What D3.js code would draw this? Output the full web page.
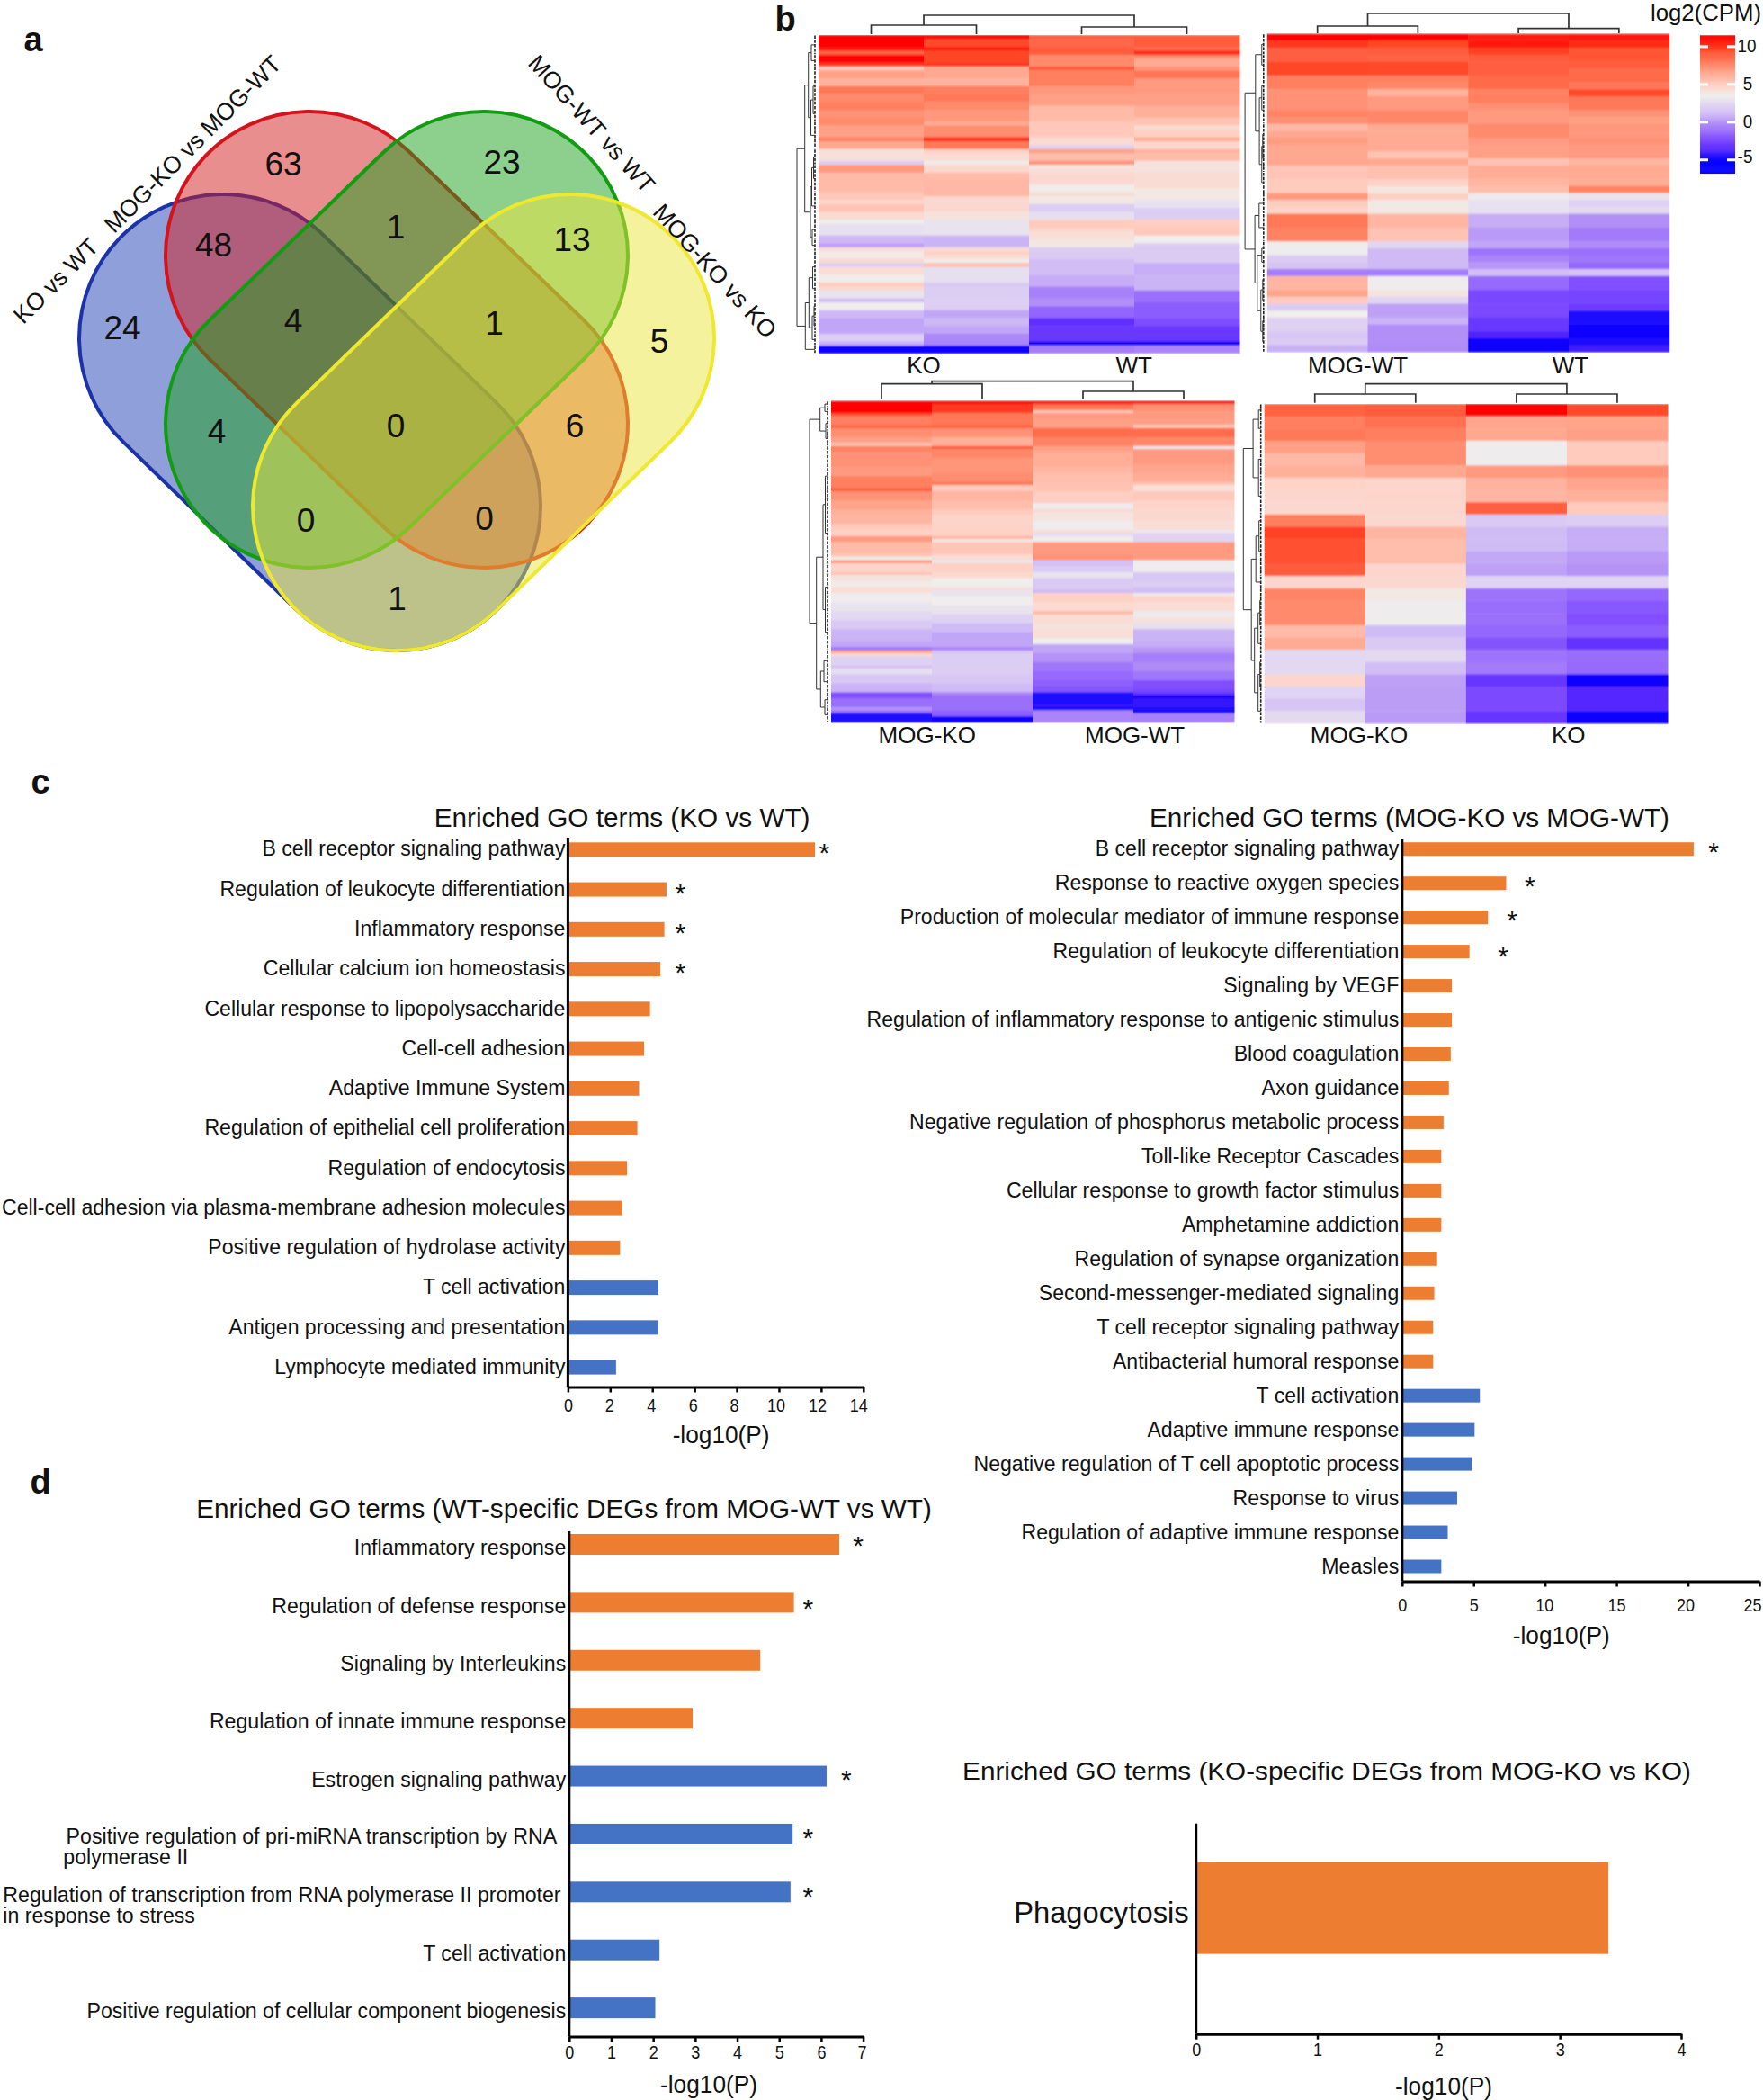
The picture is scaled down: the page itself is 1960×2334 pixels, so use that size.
<!DOCTYPE html>
<html><head><meta charset="utf-8">
<script src="https://cdnjs.cloudflare.com/ajax/libs/d3/7.8.5/d3.min.js"></script>
<style>html,body{margin:0;padding:0;background:#fff}svg{display:block}text{font-family:"Liberation Sans",Arial,sans-serif;fill:#111}</style>
</head><body><svg id="c" width="1960" height="2334"><defs><filter id="soft" x="0" y="0" width="1" height="1"><feGaussianBlur stdDeviation="0.4 0.8"/></filter></defs></svg>
<script>
/* ---------- data: Venn ---------- */
const vennSets = ["KO vs WT","MOG-KO vs MOG-WT","MOG-WT vs WT","MOG-KO vs KO"];
const vennCounts = [63,23,48,1,13,24,4,1,5,4,0,6,0,0,1];
/* ---------- data: heat maps, each column is a list of [row count, log2(CPM)] ---------- */
const h1Col1=[[3,11.5],[1,11],[1,8.7],[2,11.5],[1,10],[1,5.3],[2,6.8],[2,6.1],[2,8.2],[2,7.6],[2,8],[2,7.3],[2,7.6],[3,6.8],[1,8],[2,6.5],[3,4.2],[1,2],[2,7],[5,5.8],[2,5.3],[1,4.6],[2,5.5],[2,4.5],[1,3.5],[3,2.9],[2,1],[1,.3],[1,4.4],[2,3.8],[1,4.6],[1,2],[2,4.4],[2,3.6],[1,5.2],[1,4.6],[2,3],[1,1.2],[2,3.5],[2,1],[4,.5],[2,2],[1,.8],[2,-5.5]];
const h1Col2=[[1,11.5],[2,9.5],[1,10.8],[3,9.6],[1,10],[3,6.5],[2,6.1],[2,8],[2,8.2],[2,7.6],[3,7.1],[1,6.4],[3,7.5],[1,10.3],[2,8.2],[1,5],[2,4.4],[1,3.6],[2,4.6],[2,5.8],[4,5.9],[4,4.6],[2,4.1],[4,3],[3,.9],[1,4.4],[1,5],[1,4.3],[1,3.6],[1,5.6],[4,2.8],[1,1.8],[3,2],[3,2.1],[2,.5],[2,1],[2,.5],[2,-.3],[1,-.4],[2,-5.5]];
const h1Col3=[[1,9],[2,8.7],[2,9],[3,7.6],[1,9],[4,8],[2,7.1],[3,6.8],[4,5.8],[4,5.3],[2,4.5],[1,2.2],[1,6.8],[2,5.7],[1,7.2],[2,4.2],[3,4.6],[2,3.6],[1,4.4],[2,3.8],[2,2],[2,2.8],[2,5.2],[1,4.8],[2,4.3],[2,3.9],[3,1.9],[4,1.3],[3,.7],[3,-.5],[2,-.1],[3,-1.4],[2,-3.3],[4,-3],[1,-5.2],[2,-.6]];
const h1Col4=[[3,9],[1,8.7],[1,10.5],[1,7.6],[2,6.4],[1,7.2],[2,8.3],[4,7],[3,6.8],[3,6.2],[2,5.5],[1,4.4],[2,5],[1,6.4],[2,4.6],[1,6.1],[2,5.8],[3,4.1],[4,4.4],[3,3.8],[2,2.9],[3,2],[2,5.1],[2,5.3],[2,3.5],[5,1.9],[3,.7],[4,.9],[3,-1],[4,-1.7],[2,-2.3],[4,-3],[1,-5.5],[2,-.4]];
const h2Col1=[[1,11.5],[1,10],[2,8.9],[2,9.6],[2,8],[3,7.3],[1,7.8],[1,7.4],[1,5.9],[1,6.5],[1,6.9],[2,6.5],[1,6.6],[2,5.4],[2,5.2],[1,7],[1,5.2],[1,4.8],[2,8.2],[2,7.9],[2,3.4],[1,1.9],[1,1.5],[1,-.6],[2,6],[1,6.6],[1,5.2],[1,1.9],[1,3.5],[2,2.2],[1,1.7],[1,1.9],[1,.8]];
const h2Col2=[[1,11.5],[1,9.6],[1,9],[1,8.8],[2,9.5],[1,8],[1,7.7],[1,6.1],[2,7],[2,7.7],[1,6.4],[3,6.4],[1,5.5],[1,6.5],[2,5.6],[1,4.9],[1,3.9],[1,5],[2,3.8],[2,6],[2,5.5],[1,2.4],[1,1.1],[2,1.1],[1,-.6],[2,3.4],[1,4],[1,2.4],[2,.4],[1,.9],[3,-.1],[1,-.2]];
const h2Col3=[[1,10.7],[1,11],[1,9.8],[1,9],[2,8.9],[2,8.6],[1,7.9],[1,8],[1,7.4],[2,7],[2,7.6],[1,7],[2,6.8],[1,5.5],[2,6.3],[1,6],[1,5.7],[1,3.3],[2,2.9],[2,.7],[2,.2],[1,.5],[1,-.9],[1,-.4],[1,.1],[1,1.3],[2,-1.2],[2,-2.5],[2,-2.4],[2,-3],[1,-3.7],[2,-5.5]];
const h2Col4=[[1,11],[1,10.3],[2,9.2],[1,9],[2,8.6],[1,8.2],[1,9.5],[2,8.2],[1,7.3],[1,6.8],[2,7.1],[1,7.3],[2,7],[1,6],[2,6.4],[1,6.3],[1,7.9],[1,3],[1,2.2],[1,2.6],[2,-.1],[2,-.7],[1,-.2],[1,-1],[1,-.8],[1,-1.3],[1,1.6],[2,-2.2],[2,-2.6],[1,-2.9],[2,-4.6],[2,-5.3],[1,-4.6],[1,-4]];
const h3Col1=[[1,11.5],[3,11.5],[1,9.5],[3,8],[1,8.8],[3,7.5],[2,6.8],[1,5.4],[2,7.9],[5,7.3],[3,7],[4,8],[1,9],[3,7.3],[3,6.7],[2,6.2],[3,6],[2,5.2],[2,5],[2,7],[4,5.8],[1,5.2],[1,3.5],[1,7],[3,4.8],[1,5.5],[2,4.1],[2,3.7],[2,4.3],[3,3.4],[3,3],[3,2.5],[3,1.8],[4,.9],[2,.5],[1,-1],[1,6.5],[1,4.6],[3,2.2],[1,1.4],[2,2.8],[3,1.7],[2,.9],[1,.9],[2,-2.2],[3,-1],[1,.1],[1,-1.2],[3,-4.6]];
const h3Col2=[[1,11.5],[2,10],[1,9.8],[4,8.2],[1,9],[3,7.3],[3,6.2],[1,9],[3,7.7],[5,7.2],[3,7.5],[1,8.3],[2,5.2],[3,6],[3,5.7],[2,5.2],[3,4.8],[4,4.9],[1,6],[1,3.7],[4,5.4],[2,4.5],[1,3.2],[3,5],[2,4.6],[3,3.5],[1,4.3],[2,3],[3,3.5],[3,3],[3,2.2],[3,1.2],[5,.5],[1,-.6],[1,1.5],[7,2],[3,1.7],[2,1.2],[1,1],[1,-.4],[4,-1],[1,-1],[2,-1.6],[2,-5]];
const h3Col3=[[1,11.5],[1,8.5],[1,8.3],[1,5.4],[2,7],[3,6.8],[3,8.5],[3,7.9],[2,6.8],[5,6.3],[2,6],[3,5.7],[3,5.5],[4,5.1],[2,3.4],[1,4.6],[3,4],[3,3.4],[1,4.4],[1,2.6],[2,3.4],[4,7],[2,7.3],[2,1.4],[2,1.9],[2,3],[4,1.8],[1,1],[3,5],[3,4.5],[1,6],[3,4.4],[2,4.1],[3,4.3],[2,3.4],[3,.5],[3,0],[3,-.8],[3,-1.2],[2,-1.6],[2,-2],[4,-4.6],[1,-4.2],[1,-5.5],[4,-.4]];
const h3Col4=[[1,11.5],[2,7.5],[3,7],[2,6.8],[1,5.2],[3,8.5],[3,7.7],[1,3.1],[5,7],[3,6.6],[3,6.3],[1,5.5],[2,4.2],[3,5.3],[3,4.8],[4,4.6],[3,4.3],[1,3.2],[3,2.3],[6,7],[4,3.4],[3,1.7],[2,2],[2,1.3],[1,3.4],[2,4.8],[3,4.4],[2,3.3],[2,4.1],[2,2.8],[4,.9],[2,.7],[2,.1],[3,-.6],[3,-.2],[3,-.8],[3,-2.2],[1,-2.6],[1,-3.2],[1,-5.2],[3,-4.2],[1,-4.6],[1,-5.5],[3,-.5]];
const h4Col1=[8.8,8,8.2,6.8,5.9,6.2,4.9,4.7,4.6,8,9.7,9.3,9.3,9,4.7,7.8,7.6,7.6,5.8,6.4,2.5,2.5,4.7,2.3,1.6,2.6].map(v=>[1,v]);
const h4Col2=[9,8.4,8,7.5,7.5,6.5,4.7,4.8,4.7,4.6,6,5.7,5.7,4.7,4.6,3.8,3.4,3.4,1.2,1.8,2.6,1.3,.4,.3,.3,.2].map(v=>[1,v]);
const h4Col3=[11.5,6.6,6.5,3.4,3.4,7,6.1,6,8.9,1.8,1.2,1.2,.6,.4,2.3,-.9,-1.1,-1,-1.3,-2.1,-.9,-.7,-3.1,-2.4,-2.4,-3.1].map(v=>[1,v]);
const h4Col4=[9.5,6.7,6.8,5.2,5.2,7.3,6.6,6.2,5.2,2,.7,.7,.2,0,2.3,-1.3,-1.9,-2.2,-1.7,-3.2,-1.1,-1.2,-5.5,-3.6,-3.6,-5].map(v=>[1,v]);
/* row dendrograms: [height, child, child]; a plain number is a leaf cluster of that many rows */
const h1Tree=[21,[12.3,[8.3,[5,5,3],[5.5,[3,10,4],7]],[6,[4.5,[2.5,4,7],7],[4,5,3]]],[11.7,[7.7,[3.5,8,3],[4,[2,6,4],3]],2]];
const h2Tree=[21.7,[10,[3,3,3],[5.7,[3,3,4],[3,[2,3,4],3]]],[10.7,[6,3,4],[8,[3,2,2],[4,[2,3,3],[2,3,3]]]]];
const h3Tree=[21,[9.3,[4,2,3],[3,5,5]],[13.3,[6,[3.5,20,18],[3.5,18,12]],[8.7,[5,7,7],[4,5,5]]]];
const h4Tree=[20.4,[9.6,[3.5,1,2],[3.5,3,3]],[11.5,[6.5,[3,1,4],1],[8,[4,[2,2,2],1],[4,[2,2,2],2]]]];
/* ---------- data: colour legend ---------- */
const legendTicks=[10,5,0,-5];
const heatStops=[-6.7,-5,-3.5,-2.3,-1,0,1,2,3.5,5,6.5,8,9.5,11.5];
const heatColors=["#0000ff","#0a04ff","#5a28ff","#7f4dff","#9a70fb","#b492f6","#cdb8f5","#dccdf3","#efeeec","#ffd0c4","#ffa890","#ff7f5f","#ff4a2a","#ff0000"];
/* ---------- data: enrichment bars ---------- */
const c1Terms=["B cell receptor signaling pathway","Regulation of leukocyte differentiation","Inflammatory response","Cellular calcium ion homeostasis","Cellular response to lipopolysaccharide","Cell-cell adhesion","Adaptive Immune System","Regulation of epithelial cell proliferation","Regulation of endocytosis","Cell-cell adhesion via plasma-membrane adhesion molecules","Positive regulation of hydrolase activity","T cell activation","Antigen processing and presentation","Lymphocyte mediated immunity"];
const c1Values=[11.71,4.67,4.57,4.38,3.89,3.61,3.37,3.29,2.8,2.58,2.47,4.29,4.27,2.28];
const c1Groups=["up","up","up","up","up","up","up","up","up","up","up","down","down","down"];
const c1Stars=[12.15,5.33,5.33,5.33];
const c1Ticks=[0,2,4,6,8,10,12,14];
const c2Terms=["B cell receptor signaling pathway","Response to reactive oxygen species","Production of molecular mediator of immune response","Regulation of leukocyte differentiation","Signaling by VEGF","Regulation of inflammatory response to antigenic stimulus","Blood coagulation","Axon guidance","Negative regulation of phosphorus metabolic process","Toll-like Receptor Cascades","Cellular response to growth factor stimulus","Amphetamine addiction","Regulation of synapse organization","Second-messenger-mediated signaling","T cell receptor signaling pathway","Antibacterial humoral response","T cell activation","Adaptive immune response","Negative regulation of T cell apoptotic process","Response to virus","Regulation of adaptive immune response","Measles"];
const c2Values=[20.4,7.28,6.01,4.71,3.48,3.48,3.4,3.27,2.9,2.74,2.74,2.74,2.45,2.25,2.17,2.17,5.44,5.07,4.87,3.85,3.19,2.74];
const c2Groups=["up","up","up","up","up","up","up","up","up","up","up","up","up","up","up","up","down","down","down","down","down","down"];
const c2Stars=[21.8,8.94,7.69,7.06];
const c2Ticks=[0,5,10,15,20,25];
const d1Terms=["Inflammatory response","Regulation of defense response","Signaling by Interleukins","Regulation of innate immune response","Estrogen signaling pathway","Positive regulation of pri-miRNA transcription by RNA polymerase II","Regulation of transcription from RNA polymerase II promoter in response to stress","T cell activation","Positive regulation of cellular component biogenesis"];
const d1Values=[6.43,5.35,4.55,2.94,6.13,5.32,5.27,2.15,2.05];
const d1Groups=["up","up","up","up","down","down","down","down","down"];
const d1Stars=[6.88,5.69,null,null,6.6,5.69,5.69];
const d1Ticks=[0,1,2,3,4,5,6,7];
const d2Terms=["Phagocytosis"];
const d2Values=[3.4];
const d2Groups=["up"];
const d2Ticks=[0,1,2,3,4];
const axisName="-log10(P)";
const groupColor={up:"#ed7d31",down:"#4472c4"};

/* ---------- helpers ---------- */
const svg=d3.select("#c");
function label(txt,x,y,size,o={}){
  const t=svg.append("text").text(txt).attr("font-size",size).attr("dy","0.35em")
    .attr("text-anchor",o.anchor||"middle").attr("font-weight",o.weight||"normal");
  let sx=o.sx||1;
  if(o.width) sx=o.width/t.node().getComputedTextLength();
  t.attr("transform",`translate(${x},${y}) rotate(${o.rotate||0}) scale(${sx},1)`);
  return sx;
}
/* ---------- panel letters ---------- */
[["a",37,44],["b",873,21],["c",45,869],["d",45,1647]].forEach(d=>label(d[0],d[1],d[2],38,{weight:"bold"}));

/* ---------- a: Venn ---------- */
function stadium(p,q,r){
  const dx=q[0]-p[0],dy=q[1]-p[1],L=Math.hypot(dx,dy),nx=-dy/L*r,ny=dx/L*r,k=d3.path();
  k.moveTo(p[0]+nx,p[1]+ny);k.lineTo(q[0]+nx,q[1]+ny);
  k.arc(q[0],q[1],r,Math.atan2(ny,nx),Math.atan2(-ny,-nx),true);
  k.lineTo(p[0]-nx,p[1]-ny);
  k.arc(p[0],p[1],r,Math.atan2(-ny,-nx),Math.atan2(ny,nx),true);
  k.closePath();return k.toString();
}
const vennShapes=[
 {p:[248,376],q:[441,563],f:"#1f3fb3",s:"#1c32a8"},
 {p:[344,284],q:[538,471],f:"#d11e1e",s:"#d4141c"},
 {p:[538,284],q:[344,471],f:"#1ca01c",s:"#129c12"},
 {p:[634,376],q:[441,563],f:"#ebe63c",s:"#eee82e"}];
svg.append("g").selectAll("path").data(vennShapes).join("path")
  .attr("d",d=>stadium(d.p,d.q,160)).attr("fill",d=>d.f).attr("fill-opacity",.5)
  .attr("stroke",d=>d.s).attr("stroke-width",4);
const vennAt=[[315,182],[558,180],[237.5,272],[440,252],[636,266],[136,364],[326,356],[549.5,359],[733,379],[241,479],[440,473],[639,473],[340,578],[538.5,576],[441.5,665]];
vennCounts.forEach((v,i)=>label(v,vennAt[i][0],vennAt[i][1],37));
[[62,312,-45],[214,160,-45],[658,137.5,48],[795,301,48]].forEach((d,i)=>label(vennSets[i],d[0],d[1],26.5,{rotate:d[2]}));

/* ---------- b: heat maps ---------- */
const heat=d3.scaleLinear().domain(heatStops).range(heatColors).clamp(true);
function heatmap(o){
  const g=svg.append("g");
  const x=d3.scaleBand().domain(d3.range(o.cols.length)).range([o.x0,o.x1]);
  const cg=g.append("g").attr("filter","url(#soft)");
  o.cols.forEach((col,i)=>{
    const n=d3.sum(col,d=>d[0]);
    const y=d3.scaleLinear().domain([0,n]).range([o.y0,o.y1]);
    let r=0;
    const cells=col.map(d=>{const c={s:r,n:d[0],v:d[1]};r+=d[0];return c;});
    cg.append("g").selectAll("rect").data(cells).join("rect")
      .attr("x",x(i)).attr("width",x.bandwidth()+.5)
      .attr("y",d=>y(d.s)).attr("height",d=>y(d.s+d.n)-y(d.s)+.4)
      .attr("fill",d=>heat(d.v));
  });
  /* column dendrogram */
  const cx=i=>x(i)+x.bandwidth()/2;
  const cd=g.append("g").attr("fill","none").attr("stroke","#333").attr("stroke-width",1.7);
  const sL=(cx(0)+cx(1))/2,sR=(cx(2)+cx(3))/2;
  const P=(pts)=>cd.append("path").attr("d",d3.line()(pts));
  P([[cx(0),o.base],[cx(0),o.tl],[cx(1),o.tl],[cx(1),o.base]]);
  P([[cx(2),o.base],[cx(2),o.tr],[cx(3),o.tr],[cx(3),o.base]]);
  P([[sL,o.tl],[sL,o.top],[sR,o.top],[sR,o.tr]]);
  /* row dendrogram */
  const total=d3.sum(o.cols[0],d=>d[0]);
  const ry=d3.scaleLinear().domain([0,total]).range([o.y0,o.y1]);
  const rx=h=>o.x0-3-h;
  const rd=g.append("g").attr("fill","none").attr("stroke","#333").attr("stroke-width",1);
  let cursor=0;
  function walk(node){
    if(typeof node==="number"){
      const a=cursor,b=cursor+node;cursor=b;
      rd.append("line").attr("x1",o.x0-4).attr("x2",o.x0-4).attr("y1",ry(a)+.5).attr("y2",ry(b)-.5)
        .attr("stroke","#222").attr("stroke-width",1.6).attr("stroke-dasharray","3.5 1.3");
      return {y:ry((a+b)/2),h:1};
    }
    const A=walk(node[1]),B=walk(node[2]);
    rd.append("path").attr("d",d3.line()([[rx(A.h),A.y],[rx(node[0]),A.y],[rx(node[0]),B.y],[rx(B.h),B.y]]));
    return {y:(A.y+B.y)/2,h:node[0]};
  }
  walk(o.tree);
  o.labels.forEach(l=>label(l[0],l[1],o.labelY,26));
}
heatmap({cols:[h1Col1,h1Col2,h1Col3,h1Col4],x0:910,x1:1378,y0:39,y1:392.7,base:38,tl:28,tr:30,top:17,tree:h1Tree,labelY:405.7,labels:[["KO",1027],["WT",1260.7]]});
heatmap({cols:[h2Col1,h2Col2,h2Col3,h2Col4],x0:1408.8,x1:1855.7,y0:37.7,y1:391.3,base:37,tl:29,tr:31.7,top:15,tree:h2Tree,labelY:405.7,labels:[["MOG-WT",1509.5],["WT",1746]]});
heatmap({cols:[h3Col1,h3Col2,h3Col3,h3Col4],x0:924,x1:1372,y0:445.7,y1:802.7,base:444,tl:426.7,tr:435,top:423.7,tree:h3Tree,labelY:817,labels:[["MOG-KO",1030.7],["MOG-WT",1261.6]]});
heatmap({cols:[h4Col1,h4Col2,h4Col3,h4Col4],x0:1405.7,x1:1854,y0:449,y1:804,base:447.7,tl:438,tr:438,top:426.7,tree:h4Tree,labelY:817,labels:[["MOG-KO",1511],["KO",1743.7]]});

/* legend */
const ly=d3.scaleLinear().domain([11.5,-6.7]).range([39.3,192]);
const lg=svg.append("g");
lg.selectAll("rect").data(d3.range(11.5,-6.7,-.125)).join("rect")
  .attr("x",1890).attr("width",39).attr("y",d=>ly(d)).attr("height",1.6).attr("fill",d=>heat(d));
const lt=lg.append("g").selectAll("g").data(legendTicks).join("g");
lt.append("rect").attr("x",1890).attr("width",9).attr("y",d=>ly(d)-1.5).attr("height",3).attr("fill","#fff");
lt.append("rect").attr("x",1920).attr("width",9).attr("y",d=>ly(d)-1.5).attr("height",3).attr("fill","#fff");
legendTicks.forEach(v=>label(v,v===10?1942:v===-5?1940:1943,ly(v)-(v===-5?4:1),20.5,{sx:.92}));
label("log2(CPM)",1896.5,14,25.5,{width:123});

/* ---------- c, d: bars ---------- */
function bars(o){
  const x=d3.scaleLinear().domain([0,o.ticks[o.ticks.length-1]]).range([o.ax,o.ax1]);
  const y=d3.scalePoint().domain(o.terms).range([o.first,o.last]);
  const g=svg.append("g");
  g.append("g").selectAll("rect").data(o.terms).join("rect")
    .attr("x",x(0)).attr("y",d=>y(d)-o.bh/2).attr("height",o.bh)
    .attr("width",(d,i)=>x(o.values[i])-x(0)).attr("fill",(d,i)=>groupColor[o.groups[i]]);
  const yA=g.append("g").attr("transform",`translate(${o.ax},0)`)
    .call(d3.axisLeft(y).tickSize(0).tickPadding(o.pad));
  yA.select(".domain").remove();
  const tt=yA.selectAll("text").attr("font-size",o.size).attr("fill","#111").attr("font-family",null);
  const sx=o.refWidth/tt.nodes()[o.ref].getComputedTextLength();
  tt.attr("transform",`scale(${sx},1)`).attr("y",o.labelDy||0).attr("x",-o.pad/sx);
  g.append("line").attr("x1",o.ax).attr("x2",o.ax).attr("y1",o.top).attr("y2",o.bottom).attr("stroke","#000").attr("stroke-width",3);
  const xA=g.append("g").attr("transform",`translate(0,${o.bottom})`)
    .call(d3.axisBottom(x).tickValues(o.ticks).tickFormat(d3.format("d")).tickSize(6).tickSizeOuter(0).tickPadding(o.tpad));
  xA.select(".domain").attr("stroke","#000").attr("stroke-width",3);
  xA.selectAll("line").attr("stroke","#000").attr("stroke-width",2.5);
  xA.selectAll("text").attr("font-size",20).attr("fill","#111").attr("transform","scale(.9,1)").attr("font-family",null)
    .attr("x",(d,i)=>(o.shift?o.shift[i]:0)/.9);
  (o.stars||[]).forEach((s,i)=>{ if(s!=null)
    svg.append("text").text("*").attr("font-size",30).attr("text-anchor","middle").attr("x",x(s)).attr("y",y(o.terms[i])+o.starDy[i]); });
  label(axisName,o.nameX,o.nameY,27.5,{width:108});
  label(o.title,o.titleX,o.titleY,o.titleSize||29,{width:o.titleW});
  return {yA,y,sx};
}
bars({terms:c1Terms,values:c1Values,groups:c1Groups,stars:c1Stars,starDy:[14,14,14,14],shift:[0,-1,-1.5,-2,-3,-3.5,-4.5,-5.5],ticks:c1Ticks,ax:631.4,ax1:959.8,first:944.3,last:1519.6,bh:16,top:931,bottom:1541.5,pad:3,size:24,ref:9,refWidth:627,labelDy:-1,tpad:7.5,nameX:801.6,nameY:1594,title:"Enriched GO terms (KO vs WT)",titleX:691.6,titleY:909,titleW:418});
bars({terms:c2Terms,values:c2Values,groups:c2Groups,stars:c2Stars,starDy:[13,13,13,15],shift:[0,0,-1,0,-3,-8],ticks:c2Ticks,ax:1558.8,ax1:1956,first:943.7,last:1741,bh:15,top:932,bottom:1757.5,pad:3.5,size:24,ref:5,refWidth:592,labelDy:-.5,tpad:13.5,nameX:1735.7,nameY:1817,title:"Enriched GO terms (MOG-KO vs MOG-WT)",titleX:1567,titleY:909,titleW:578});
const d1=bars({terms:d1Terms,values:d1Values,groups:d1Groups,stars:d1Stars,starDy:[11,17,0,0,14,15,15],shift:[0,0,0,0,0,0,0,-1.5],ticks:d1Ticks,ax:632.8,ax1:959.6,first:1716.5,last:2231.6,bh:23,top:1702,bottom:2263.4,pad:3.5,size:24,ref:1,refWidth:327,labelDy:3.5,tpad:4.6,nameX:788,nameY:2316.7,title:"Enriched GO terms (WT-specific DEGs from MOG-WT vs WT)",titleX:627,titleY:1677,titleW:818});
/* the two terms that wrap onto two lines */
d1.yA.selectAll("text").filter(d=>d===d1Terms[5]||d===d1Terms[6]).remove();
label("Positive regulation of pri-miRNA transcription by RNA",73.6,2041,24,{anchor:"start",sx:d1.sx});
label("polymerase II",70.3,2064,24,{anchor:"start",sx:d1.sx});
label("Regulation of transcription from RNA polymerase II promoter",3.3,2105.3,24,{anchor:"start",sx:d1.sx});
label("in response to stress",3.3,2128.7,24,{anchor:"start",sx:d1.sx});
bars({terms:d2Terms,values:d2Values,groups:d2Groups,ticks:d2Ticks,ax:1329.7,ax1:1869,first:2120.8,last:2120.8,bh:101.7,top:2026.7,bottom:2260.7,pad:8,size:33,ref:0,refWidth:194.6,labelDy:5,tpad:4.3,nameX:1605,nameY:2318,title:"Enriched GO terms (KO-specific DEGs from MOG-KO vs KO)",titleX:1475,titleY:1968,titleW:810,titleSize:28.5});
</script></body></html>
